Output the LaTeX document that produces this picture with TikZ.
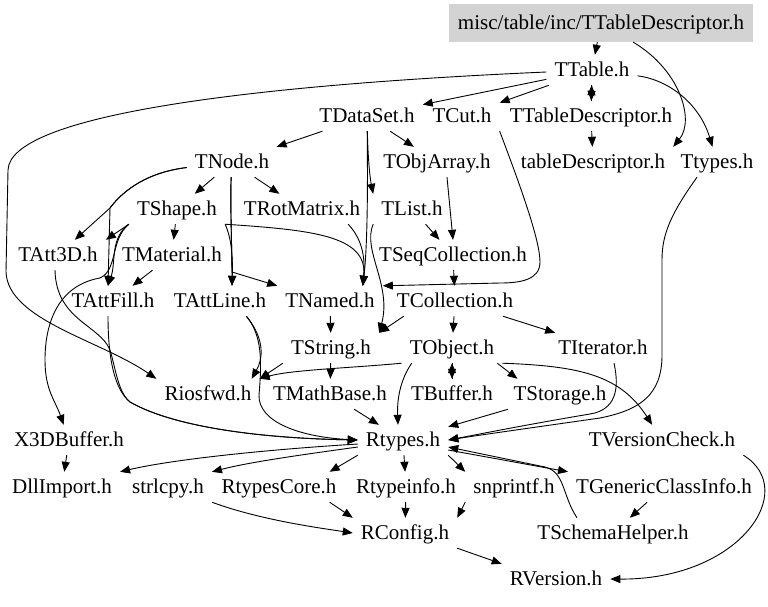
\documentclass[tikz,border=0pt]{standalone}
\usepackage{fontspec}
\setmainfont{Liberation Serif}
\usetikzlibrary{arrows.meta}
\definecolor{rootgray}{RGB}{211,211,211}
\begin{document}
\begin{tikzpicture}[x=1pt,y=-1pt,
  nd/.style={inner xsep=8pt, inner ysep=7pt, text height=14pt, text depth=2pt, font=\fontsize{21}{24}\selectfont},
  rootnd/.style={nd, fill=rootgray, inner sep=0pt, minimum width=304pt, minimum height=38pt},
  dep/.style={draw=black, line width=0.9pt, -{Triangle[length=10pt,width=8pt]}}]
\useasboundingbox (0,0) rectangle (768,606);
% nodes
\node[rootnd] (root) at (601,23) {misc/table/inc/TTableDescriptor.h};
\node[nd] (TTable) at (592,70) {TTable.h};
\node[nd] (TDataSet) at (367,116) {TDataSet.h};
\node[nd] (TCut) at (462,116) {TCut.h};
\node[nd] (TTD) at (591,116) {TTableDescriptor.h};
\node[nd] (TNode) at (232,162) {TNode.h};
\node[nd] (TObjArray) at (437,162) {TObjArray.h};
\node[nd] (tabDesc) at (593,162) {tableDescriptor.h};
\node[nd] (Ttypes) at (717,162) {Ttypes.h};
\node[nd] (TShape) at (177,209) {TShape.h};
\node[nd] (TRotMatrix) at (302,209) {TRotMatrix.h};
\node[nd] (TList) at (412,209) {TList.h};
\node[nd] (TAtt3D) at (58,255) {TAtt3D.h};
\node[nd] (TMaterial) at (172,255) {TMaterial.h};
\node[nd] (TSeqColl) at (453,255) {TSeqCollection.h};
\node[nd] (TAttFill) at (113,301) {TAttFill.h};
\node[nd] (TAttLine) at (220,301) {TAttLine.h};
\node[nd] (TNamed) at (330,301) {TNamed.h};
\node[nd] (TCollection) at (455,301) {TCollection.h};
\node[nd] (TString) at (331,348) {TString.h};
\node[nd] (TObject) at (452,348) {TObject.h};
\node[nd] (TIterator) at (603,348) {TIterator.h};
\node[nd] (Riosfwd) at (208,394) {Riosfwd.h};
\node[nd] (TMathBase) at (330,394) {TMathBase.h};
\node[nd] (TBuffer) at (452,394) {TBuffer.h};
\node[nd] (TStorage) at (560,394) {TStorage.h};
\node[nd] (X3D) at (69,440) {X3DBuffer.h};
\node[nd] (Rtypes) at (403,440) {Rtypes.h};
\node[nd] (TVersionCheck) at (662,440) {TVersionCheck.h};
\node[nd] (DllImport) at (62,487) {DllImport.h};
\node[nd] (strlcpy) at (168,487) {strlcpy.h};
\node[nd] (RtypesCore) at (279,487) {RtypesCore.h};
\node[nd] (Rtypeinfo) at (406,487) {Rtypeinfo.h};
\node[nd] (snprintf) at (514,487) {snprintf.h};
\node[nd] (TGCI) at (664,487) {TGenericClassInfo.h};
\node[nd] (RConfig) at (405,533) {RConfig.h};
\node[nd] (TSchema) at (613,533) {TSchemaHelper.h};
\node[nd] (RVersion) at (556,579) {RVersion.h};
% edges
\draw[dep] (root) -- (TTable);
\draw[dep] (root) .. controls (680,70) and (695,120) .. (tabDesc.north east);
\draw[dep] (TTable) -- (TDataSet);
\draw[dep] (TTable) -- (TCut);
\draw[dep] (TTable) -- (TTD);
\draw[dep] (TTD) -- (TTable);
\draw[dep] (TTable) .. controls (670,80) and (700,105) .. (Ttypes);
\draw[dep] (TTable) .. controls (250,85) and (10,115) .. (8,170) -- (6,272) .. controls (8,320) and (100,340) .. (Riosfwd.north west);
\draw[dep] (TTD) -- (tabDesc);
\draw[dep] (TDataSet) -- (TNode);
\draw[dep] (TDataSet) -- (TObjArray);
\draw[dep] (TDataSet) .. controls (368,160) and (370,178) .. (TList.north west);
\draw[dep] (TDataSet) .. controls (368,200) and (367,250) .. ([xshift=-20pt]TNamed.north east);
\draw[dep] (TCut.south east) .. controls (520,185) and (540,240) .. (540,262) .. controls (540,280) and (520,283) .. (500,283) -- (TNamed.north east);
\draw[dep] (TNode) -- (TShape);
\draw[dep] (TNode) -- (TRotMatrix);
\draw[dep] (TNode) .. controls (150,172) and (125,188) .. (110,208) -- (TAtt3D);
\draw[dep] (TNode) .. controls (150,172) and (125,188) .. (110,208) -- ([xshift=-5pt]TAttFill.north);
\draw[dep] (TNode) .. controls (230,200) and (232,250) .. ([xshift=12pt]TAttLine.north);
\draw[dep] (TNode) .. controls (230,200) and (232,250) .. (232,272) -- (TNamed.north west);
\draw[dep] (TShape.south west) -- (TAtt3D.north east);
\draw[dep] (TShape.south west) .. controls (110,238) and (116,262) .. ([xshift=-5pt]TAttFill.north);
\draw[dep] (TShape.south west) .. controls (110,240) and (118,270) .. (100,278) .. controls (60,285) and (45,320) .. (45,360) .. controls (45,390) and (55,400) .. (X3D);
\draw[dep] (TShape) -- (TMaterial);
\draw[dep] (TMaterial) -- (TAttFill);
\draw[dep] (TShape.south east) .. controls (230,235) and (233,250) .. ([xshift=12pt]TAttLine.north);
\draw[dep] (TShape.south east) .. controls (310,230) and (368,235) .. ([xshift=-20pt]TNamed.north east);
\draw[dep] ([xshift=-20pt]TRotMatrix.south east) .. controls (358,235) and (366,250) .. ([xshift=-20pt]TNamed.north east);
\draw[dep] (TList.south west) .. controls (362,250) and (392,285) .. (TString.north east);
\draw[dep] (TList) -- (TSeqColl);
\draw[dep] ([xshift=10pt]TObjArray.south) -- (TSeqColl.north);
\draw[dep] (TSeqColl) -- (TCollection);
\draw[dep] (TCollection) -- (TObject);
\draw[dep] (TCollection) -- (TIterator);
\draw[dep] ([xshift=15pt]TCollection.south west) -- (TString.north east);
\draw[dep] (TNamed) -- (TString);
\draw[dep] (TString) -- (TMathBase);
\draw[dep] (TString.south west) -- (Riosfwd.north east);
\draw[dep] (TObject.south west) .. controls (350,368) and (290,370) .. (Riosfwd.north east);
\draw[dep] ([xshift=-28pt]TAttLine.south east) .. controls (262,335) and (265,355) .. ([xshift=-8pt]Riosfwd.north east);
\draw[dep] ([xshift=-28pt]TAttLine.south east) .. controls (262,335) and (262,360) .. (259,395) .. controls (258,422) and (300,437) .. (Rtypes.west);
\draw[dep] ([xshift=-5pt]TAttFill.south) .. controls (108,360) and (115,390) .. (130,402) .. controls (170,425) and (250,438) .. (Rtypes.west);
\draw[dep] ([xshift=-3pt]TAtt3D.south) .. controls (56,320) and (100,325) .. (110,350) .. controls (116,370) and (118,392) .. (130,402) .. controls (170,425) and (250,438) .. (Rtypes.west);
\draw[dep] (TMathBase) -- (Rtypes);
\draw[dep] ([xshift=10pt]TObject.south west) .. controls (400,380) and (397,400) .. ([xshift=-5pt]Rtypes.north);
\draw[dep] (TObject) -- (TBuffer);
\draw[dep] (TBuffer) -- (TObject);
\draw[dep] ([xshift=-5pt]TObject.south east) -- ([xshift=12pt]TStorage.north west);
\draw[dep] (TObject.south east) .. controls (580,366) and (620,375) .. (TVersionCheck);
\draw[dep] (TStorage) -- (Rtypes);
\draw[dep] ([xshift=11pt]TIterator.south) .. controls (620,390) and (615,410) .. (590,414) .. controls (530,424) and (480,434) .. (Rtypes.east);
\draw[dep] ([xshift=-20pt]Ttypes.south) .. controls (670,215) and (662,235) .. (662,260) -- (662,355) .. controls (662,395) and (640,410) .. (600,418) .. controls (530,428) and (480,435) .. (Rtypes.east);
\draw[dep] ([xshift=-36pt]TSchema.north) .. controls (562,495) and (565,472) .. (545,467) -- ([yshift=-7pt]Rtypes.east);
\draw[dep] ([yshift=-10pt]Rtypes.east) -- (TGCI.north west);
\draw[dep] ([yshift=-4pt]Rtypes.west) .. controls (260,450) and (170,460) .. (DllImport.north east);
\draw[dep] ([yshift=-7pt]Rtypes.west) .. controls (300,455) and (250,462) .. (strlcpy.north east);
\draw[dep] (Rtypes.south west) -- ([xshift=-15pt]RtypesCore.north east);
\draw[dep] (Rtypes) -- (Rtypeinfo);
\draw[dep] (Rtypes.south east) -- (snprintf.north west);
\draw[dep] (Rtypeinfo) -- (RConfig);
\draw[dep] ([xshift=-15pt]RtypesCore.south east) -- (RConfig.north west);
\draw[dep] (snprintf.south west) -- (RConfig.north east);
\draw[dep] (strlcpy.south east) .. controls (260,520) and (320,528) .. (RConfig.west);
\draw[dep] (RConfig.south east) -- (RVersion.north west);
\draw[dep] (TVersionCheck.south east) .. controls (800,490) and (740,580) .. (RVersion.east);
\draw[dep] (TGCI) -- (TSchema);
\draw[dep] (X3D) -- (DllImport);
\end{tikzpicture}
\end{document}
